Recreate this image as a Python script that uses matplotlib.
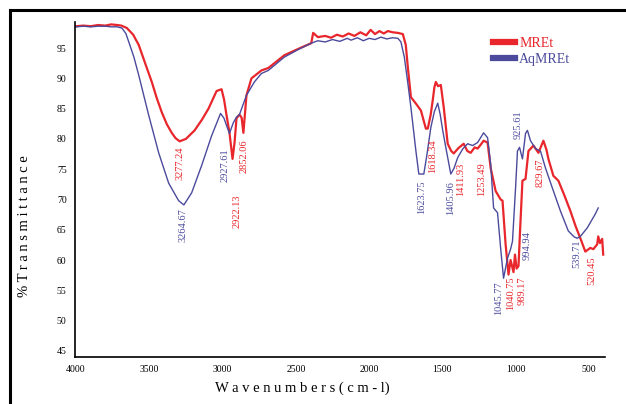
import matplotlib
matplotlib.use("Agg")
import matplotlib.pyplot as plt
from matplotlib.lines import Line2D

plt.rcParams['font.family'] = ['Liberation Serif', 'DejaVu Serif']

# MREt (red) spectrum
mret_wn = [4000, 3950, 3900, 3850, 3800, 3760, 3720, 3690, 3653, 3610, 3572, 3530, 3483, 3450,
           3415, 3380, 3347, 3320, 3293, 3250, 3191, 3140, 3096, 3041, 3007, 2990, 2973, 2953,
           2932, 2918, 2905, 2885, 2870, 2858, 2837, 2803, 2735, 2688, 2579, 2480, 2395, 2382,
           2350, 2300, 2260, 2220, 2180, 2140, 2100, 2060, 2020, 1990, 1960, 1930, 1900, 1872,
           1840, 1804, 1770, 1750, 1736, 1715, 1680, 1647, 1613, 1600, 1580, 1566, 1555, 1545,
           1530, 1511, 1491, 1464, 1440, 1423, 1390, 1355, 1330, 1307, 1280, 1260, 1240, 1219,
           1192, 1171, 1137, 1103, 1090, 1069, 1049, 1035, 1015, 1005, 994, 981, 970, 954, 933,
           913, 879, 845, 811, 790, 777, 743, 709, 670, 627, 590, 559, 525, 491, 470, 444, 437,
           425, 410, 403]
mret_t = [98.6, 98.7, 98.6, 98.8, 98.7, 98.9, 98.8, 98.7, 98.3, 97.2, 95.5, 92.6, 89.4, 86.8,
          84.4, 82.4, 81.0, 80.1, 79.6, 80.0, 81.4, 83.2, 85.0, 87.9, 88.2, 86.5, 83.9, 81.0,
          76.7, 79.5, 83.4, 84.0, 83.5, 81.0, 87.2, 90.0, 91.3, 91.7, 93.8, 94.9, 95.8, 97.5,
          96.8, 97.0, 96.7, 97.2, 96.9, 97.4, 97.0, 97.6, 97.1, 98.0, 97.3, 97.8, 97.4, 97.8,
          97.6, 97.5, 97.3, 95.5, 91.8, 86.9, 85.8, 84.7, 81.7, 81.7, 84.0, 86.4, 88.5, 89.4,
          88.7, 88.9, 85.2, 79.2, 78.0, 77.6, 78.5, 79.2, 78.0, 77.7, 78.6, 78.4, 79.0, 79.7,
          79.4, 75.2, 71.4, 70.0, 69.8, 62.6, 57.6, 60.0, 58.0, 60.9, 58.6, 59.0, 65.0, 73.1,
          73.4, 78.0, 78.9, 77.7, 79.7, 78.2, 76.7, 73.9, 73.1, 70.8, 68.1, 65.5, 63.6, 61.4,
          62.0, 61.8, 62.6, 63.9, 62.8, 63.5, 60.9]

# AqMREt (blue) spectrum
aq_wn = [4000, 3950, 3900, 3850, 3800, 3760, 3720, 3687, 3660, 3640, 3605, 3572, 3504, 3436,
         3368, 3300, 3264, 3211, 3143, 3075, 3014, 2990, 2973, 2953, 2940, 2926, 2905, 2885,
         2837, 2783, 2735, 2688, 2579, 2480, 2395, 2350, 2300, 2250, 2200, 2150, 2123, 2080,
         2040, 2000, 1960, 1920, 1880, 1840, 1804, 1783, 1760, 1736, 1715, 1681, 1661, 1627,
         1605, 1579, 1555, 1532, 1515, 1498, 1477, 1443, 1420, 1396, 1360, 1328, 1294, 1260,
         1219, 1192, 1171, 1151, 1124, 1103, 1083, 1056, 1035, 1022, 1001, 988, 974, 954, 933,
         920, 899, 865, 831, 797, 750, 695, 641, 600, 580, 559, 512, 457, 437]
aq_t = [98.5, 98.6, 98.5, 98.6, 98.6, 98.5, 98.5, 98.3, 97.4, 96.0, 93.5, 90.5, 83.9, 77.7,
        72.7, 69.8, 69.1, 71.1, 75.6, 80.5, 84.2, 83.4, 82.2, 80.9, 81.8, 82.7, 83.6, 84.0,
        87.2, 89.4, 90.8, 91.3, 93.5, 94.8, 95.8, 96.2, 96.0, 96.4, 96.1, 96.6, 96.3, 96.7,
        96.2, 96.6, 96.4, 96.8, 96.5, 96.7, 96.6, 96.0, 93.5, 89.2, 85.2, 78.0, 74.2, 74.2,
        77.5, 81.9, 84.5, 85.9, 84.0, 81.4, 78.6, 74.2, 75.2, 76.9, 78.4, 79.2, 78.9, 79.4,
        81.0, 80.2, 75.9, 68.6, 67.8, 62.0, 57.0, 60.3, 61.8, 63.1, 71.9, 78.0, 78.6, 76.7,
        80.9, 81.4, 79.7, 78.4, 78.0, 75.2, 71.9, 68.1, 64.8, 63.8, 63.6, 63.9, 65.3, 67.6,
        68.6]

# peak labels: (text, wavenumber, top of text in %T, series)
peak_txt = ["3277.24", "3264.67", "2927.61", "2922.13", "2852.06", "1623.75", "1618.34",
            "1405.96", "1411.93", "1253.49", "1045.77", "1040.75", "989.17", "994.94",
            "925.61", "829.67", "539.71", "520.45"]
peak_wn = [3293, 3272, 2980, 2898, 2851, 1640, 1566, 1443, 1375, 1232, 1117, 1035, 954,
           920, 981, 831, 586, 484]
peak_top = [78.7, 68.6, 78.4, 70.9, 80.0, 73.1, 80.0, 73.1, 76.1, 76.1, 56.5, 57.3, 57.3,
            64.8, 84.7, 76.7, 63.4, 60.6]
peak_series = ["r", "b", "b", "r", "r", "b", "r", "b", "r", "r", "b", "r", "r", "b", "b",
               "r", "b", "r"]

red = "#e8262b"
blue = "#4b4a9c"

fig = plt.figure(figsize=(6.26, 4.04), dpi=100)
ax = fig.add_axes([0.1198, 0.1164, 0.8466, 0.8292])

ax.plot(mret_wn, mret_t, color=red, lw=1.6, label="MREt")
ax.plot(aq_wn, aq_t, color=blue, lw=1.0, label="AqMREt")

for txt, x, y, s in zip(peak_txt, peak_wn, peak_top, peak_series):
    ax.text(x, y, txt, rotation=90, ha="center", va="top", fontsize=7.5,
            color=red if s == "r" else blue)

ax.set_xlim(4007, 391)
ax.set_ylim(44.0, 99.3)
ax.set_xticks([4000, 3500, 3000, 2500, 2000, 1500, 1000, 500])
ax.set_yticks([45, 50, 55, 60, 65, 70, 75, 80, 85, 90, 95])
ax.tick_params(length=0, labelsize=7, pad=6)
for side in ["top", "right"]:
    ax.spines[side].set_visible(False)
ax.spines["left"].set_linewidth(1.2)
ax.spines["bottom"].set_linewidth(1.2)

ax.set_xlabel("W a v e n u m b e r s ( c m - l)", fontsize=10.5)
ax.set_ylabel("% T r a n s m i t t a n c e", fontsize=10.5)
ax.xaxis.set_label_coords(0.428, -0.072)
ax.yaxis.set_label_coords(-0.083, 0.39)

leg = ax.legend(loc="upper left", bbox_to_anchor=(0.77, 0.985), frameon=False,
                fontsize=10, handlelength=1.6, handleheight=0.4, handletextpad=0.3,
                labelspacing=0.2, borderpad=0.2)
for h in leg.get_lines():
    h.set_linewidth(4.5)
for t, c in zip(leg.get_texts(), [red, blue]):
    t.set_color(c)

# outer frame of the scanned figure
fig.add_artist(Line2D([0.016, 0.016], [0.0, 0.975], color="black", lw=2.2))
fig.add_artist(Line2D([0.016, 1.0], [0.975, 0.975], color="black", lw=2.2))

fig.savefig("out.png", dpi=100)
